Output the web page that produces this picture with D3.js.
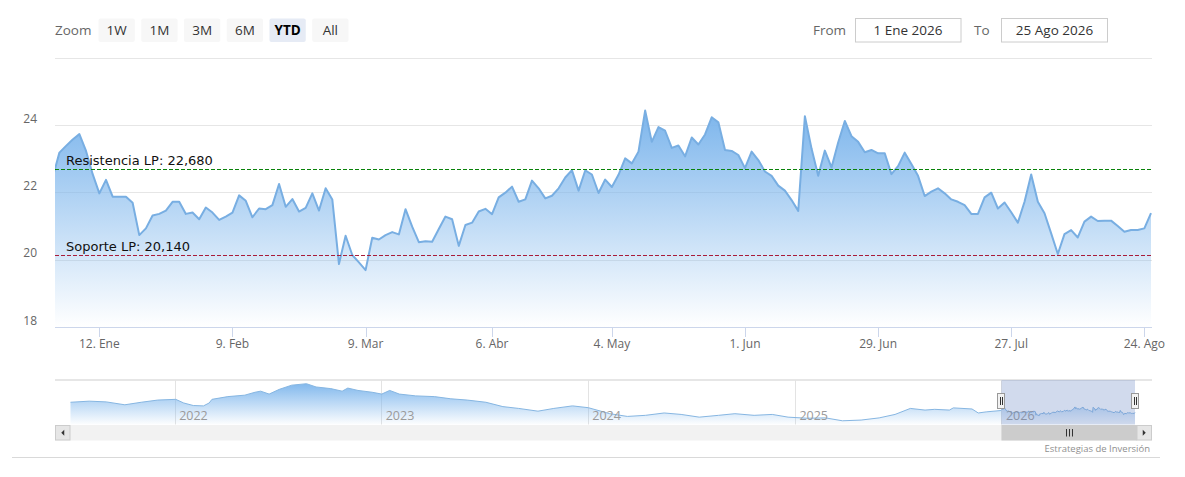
<!DOCTYPE html>
<html><head><meta charset="utf-8">
<script src="https://cdn.jsdelivr.net/npm/d3@7"></script>
<style>
html,body{margin:0;padding:0;background:#fff;}
svg{display:block;font-family:"Open Sans",sans-serif;}
</style></head><body>
<svg id="chart" width="1185" height="477"></svg>
<script>
// ---------- data ----------
const holidays = ["2026-04-03", "2026-04-06", "2026-05-01"];
const priorDate = "2025-12-31";
const startDate = "2026-01-02";
const endDate = "2026-08-25";
// first value belongs to priorDate, then one value per trading day
const prices = [22.45,
  23.18,23.38,23.57,23.73,23.23,22.54,21.97,22.37,21.87,21.87,
  21.87,21.69,20.73,20.93,21.31,21.36,21.46,21.72,21.72,21.36,
  21.40,21.20,21.55,21.40,21.18,21.28,21.40,21.91,21.75,21.26,
  21.52,21.50,21.62,22.25,21.57,21.80,21.43,21.54,21.97,21.46,
  22.12,21.79,19.87,20.71,20.14,19.92,19.69,20.65,20.60,20.73,
  20.82,20.75,21.50,20.98,20.52,20.55,20.53,20.91,21.28,21.20,
  20.41,21.03,21.10,21.43,21.51,21.35,21.85,21.99,22.17,21.72,
  21.79,22.35,22.12,21.82,21.90,22.12,22.44,22.66,22.05,22.65,
  22.53,21.98,22.38,22.16,22.52,23.01,22.86,23.21,24.43,23.50,
  23.94,23.83,23.32,23.39,23.07,23.63,23.42,23.72,24.23,24.08,
  23.26,23.23,23.11,22.72,23.21,22.96,22.62,22.49,22.20,22.05,
  21.77,21.45,24.26,23.30,22.49,23.24,22.74,23.48,24.12,23.67,
  23.50,23.19,23.26,23.16,23.16,22.54,22.78,23.18,22.84,22.49,
  21.89,22.02,22.12,21.97,21.79,21.72,21.62,21.36,21.36,21.85,
  21.99,21.52,21.70,21.41,21.10,21.72,22.53,21.72,21.38,20.78,
  20.17,20.76,20.88,20.66,21.13,21.28,21.15,21.16,21.16,21.00,
  20.83,20.88,20.88,20.93,21.38];

const tickDates = ["2026-01-12","2026-02-09","2026-03-09","2026-04-06","2026-05-04","2026-06-01","2026-06-29","2026-07-27","2026-08-24"];
const tickLabels = ["12. Ene","9. Feb","9. Mar","6. Abr","4. May","1. Jun","29. Jun","27. Jul","24. Ago"];
const yTicks = [18, 20, 22, 24, 26];
const yTickLabels = ["18", "20", "22", "24", ""];
const levelValues = [22.68, 20.14];
const levelLabels = ["Resistencia LP: 22,680", "Soporte LP: 20,140"];
const levelColors = ["#0a820a", "#a81c3a"];

// navigator history (before 2026)
const navDates = ["2021-07-01","2021-08-03","2021-09-02","2021-10-05","2021-11-03","2021-12-02",
  "2022-01-03","2022-01-17","2022-02-03","2022-02-21","2022-03-03","2022-03-08","2022-04-05","2022-05-05",
  "2022-05-23","2022-06-02","2022-06-17","2022-07-05","2022-07-27","2022-08-22","2022-09-08","2022-10-04",
  "2022-10-24","2022-11-03","2022-11-21","2022-12-16","2023-01-02","2023-01-16","2023-02-02","2023-03-03",
  "2023-04-05","2023-05-04","2023-06-02","2023-07-05","2023-08-04","2023-09-01","2023-10-05","2023-11-02",
  "2023-12-05","2024-01-02","2024-02-09","2024-03-11","2024-04-12","2024-05-15","2024-06-14","2024-07-16",
  "2024-08-19","2024-09-17","2024-10-21","2024-11-22","2024-12-20","2025-01-23","2025-02-24","2025-03-26",
  "2025-04-28","2025-05-30","2025-06-27","2025-07-24","2025-08-19","2025-09-05","2025-10-01","2025-10-08",
  "2025-11-10","2025-11-21","2025-12-05"];
const navValues = [27.0,27.6,27.2,25.6,27.0,28.2,
  28.6,26.6,25.2,25.0,26.6,28.6,30.1,30.9,
  32.5,33.1,31.5,34.1,36.4,37.2,35.4,34.5,
  33.1,34.8,33.5,32.5,31.5,33.5,31.5,30.5,
  30.1,28.9,28.2,27.0,24.6,23.6,22.1,23.6,
  25.0,24.0,20.7,19.2,19.8,21.1,20.3,18.8,
  19.8,20.7,19.8,20.3,18.8,18.2,18.4,16.8,
  17.2,18.4,20.3,23.6,22.7,23.1,22.7,23.9,
  23.3,21.1,21.7];
const navYearLabels = ["2022", "2023", "2024", "2025", "2026"];

const zoomLabel = "Zoom";
const zoomButtons = ["1W", "1M", "3M", "6M", "YTD", "All"];
const selectedButton = "YTD";
const fromLabel = "From", toLabel = "To";
const fromText = "1 Ene 2026", toText = "25 Ago 2026";
const credit = "Estrategias de Inversión";

// ---------- helpers ----------
const parse = d3.utcParse("%Y-%m-%d");
const fmt = d3.utcFormat("%Y-%m-%d");
const tradingDays = [parse(priorDate)].concat(
  d3.utcDays(parse(startDate), d3.utcDay.offset(parse(endDate), 1))
    .filter(d => d.getUTCDay() % 6 !== 0 && !holidays.includes(fmt(d))));

const svg = d3.select("#chart");
const defs = svg.append("defs");

// layout
const P = {left: 55, right: 1152, top: 57.7, bottom: 327};
const NAV = {top: 380, bottom: 424.5, left: 55, right: 1152};

// ---------- main scales ----------
const n = prices.length;
const x = d3.scaleLinear().domain([1, n - 1]).range([59.4, 1151]);
const y = d3.scaleLinear().domain([18, 26]).range([P.bottom, P.top]);

defs.append("clipPath").attr("id", "plotClip")
  .append("rect").attr("x", P.left).attr("y", P.top - 5)
  .attr("width", P.right - P.left).attr("height", P.bottom - P.top + 5);

const g1 = defs.append("linearGradient").attr("id", "mainGrad")
  .attr("x1", 0).attr("y1", 0).attr("x2", 0).attr("y2", 1);
g1.append("stop").attr("offset", 0).attr("stop-color", "#7cb5ec").attr("stop-opacity", 1);
g1.append("stop").attr("offset", 1).attr("stop-color", "#7cb5ec").attr("stop-opacity", 0);

// gridlines
svg.append("g").selectAll("line").data(yTicks.filter(v => v !== 18)).join("line")
  .attr("x1", P.left).attr("x2", P.right)
  .attr("y1", d => Math.round(y(d)) + 0.5).attr("y2", d => Math.round(y(d)) + 0.5)
  .attr("stroke", "#e6e6e6").attr("stroke-width", 1);

// y labels
svg.append("g").selectAll("text").data(yTicks).join("text")
  .attr("x", 37).attr("y", d => y(d) - 2.5)
  .attr("text-anchor", "end").attr("font-size", 12).attr("fill", "#666")
  .text((d, i) => yTickLabels[i]);

// area + line
const plot = svg.append("g").attr("clip-path", "url(#plotClip)");
plot.append("path").datum(prices)
  .attr("d", d3.area().x((d, i) => x(i)).y0(y(18)).y1(d => y(d)))
  .attr("fill", "url(#mainGrad)");
plot.append("path").datum(prices)
  .attr("d", d3.line().x((d, i) => x(i)).y(d => y(d)))
  .attr("fill", "none").attr("stroke", "#78aee2").attr("stroke-width", 2)
  .attr("stroke-linejoin", "round");

// support / resistance
levelValues.forEach((v, i) => {
  svg.append("line").attr("x1", P.left).attr("x2", P.right)
    .attr("y1", Math.round(y(v)) + 0.5).attr("y2", Math.round(y(v)) + 0.5)
    .attr("stroke", levelColors[i]).attr("stroke-width", 1).attr("stroke-dasharray", "4,2");
  svg.append("text").attr("x", 66).attr("y", y(v) - 4)
    .style("font-family", "'DejaVu Sans', Verdana, sans-serif")
    .style("font-size", "13px").attr("fill", "#111").text(levelLabels[i]);
});

// x axis
svg.append("line").attr("x1", P.left).attr("x2", P.right)
  .attr("y1", P.bottom + 0.5).attr("y2", P.bottom + 0.5).attr("stroke", "#ccd6eb");
const tickIdx = tickDates.map(d => d3.bisectLeft(tradingDays, parse(d)));
const xa = svg.append("g");
xa.selectAll("line").data(tickIdx).join("line")
  .attr("x1", d => Math.round(x(d)) + 0.5).attr("x2", d => Math.round(x(d)) + 0.5)
  .attr("y1", P.bottom).attr("y2", P.bottom + 10).attr("stroke", "#ccd6eb");
xa.selectAll("text").data(tickIdx).join("text")
  .attr("x", d => x(d)).attr("y", 347.5).attr("text-anchor", "middle")
  .attr("font-size", 12).attr("fill", "#666")
  .text((d, i) => tickLabels[i]);

// ---------- range selector ----------
svg.append("text").attr("x", 55).attr("y", 34.5).attr("font-size", 13.5).attr("fill", "#666").text(zoomLabel);
const bx = d3.scaleBand().domain(zoomButtons).range([98.5, 348.5]).paddingInner(0.15).paddingOuter(0);
const btn = svg.append("g").selectAll("g").data(zoomButtons).join("g");
btn.append("rect").attr("x", d => bx(d)).attr("y", 18.5).attr("width", bx.bandwidth()).attr("height", 23.5)
  .attr("rx", 2).attr("fill", d => d === selectedButton ? "#e6ebf5" : "#f7f7f7");
btn.append("text").attr("x", d => bx(d) + bx.bandwidth() / 2).attr("y", 34.5)
  .attr("text-anchor", "middle").attr("font-size", 13.5)
  .attr("font-weight", d => d === selectedButton ? "bold" : "normal")
  .attr("fill", d => d === selectedButton ? "#000" : "#333").text(d => d);

svg.append("text").attr("x", 813).attr("y", 34.5).attr("font-size", 13.5).attr("fill", "#666").text(fromLabel);
svg.append("rect").attr("x", 855.5).attr("y", 18.5).attr("width", 105.5).attr("height", 23.5)
  .attr("fill", "#fff").attr("stroke", "#cccccc");
svg.append("text").attr("x", 908).attr("y", 34.5).attr("text-anchor", "middle").attr("font-size", 13.5).attr("fill", "#333").text(fromText);
svg.append("text").attr("x", 974).attr("y", 34.5).attr("font-size", 13.5).attr("fill", "#666").text(toLabel);
svg.append("rect").attr("x", 1001.5).attr("y", 18.5).attr("width", 106).attr("height", 23.5)
  .attr("fill", "#fff").attr("stroke", "#cccccc");
svg.append("text").attr("x", 1054.5).attr("y", 34.5).attr("text-anchor", "middle").attr("font-size", 13.5).attr("fill", "#333").text(toText);

// ---------- navigator ----------
const navSeries = navDates.map((d, i) => ({date: parse(d), v: navValues[i]}))
  .concat(tradingDays.map((d, i) => ({date: d, v: prices[i]})));
const nx = d3.scaleUtc().domain([parse(navDates[0]), parse(endDate)]).range([70.5, 1135]);
const [nMin, nMax] = d3.extent(navSeries, d => d.v);
const nR = nMax - nMin;
const ny = d3.scaleLinear().domain([nMin - 0.1 * nR, nMax + 0.1 * nR]).range([NAV.bottom, NAV.top]);

const g2 = defs.append("linearGradient").attr("id", "navGrad")
  .attr("x1", 0).attr("y1", 0).attr("x2", 0).attr("y2", 1);
g2.append("stop").attr("offset", 0).attr("stop-color", "#7cb5ec").attr("stop-opacity", 0.95);
g2.append("stop").attr("offset", 1).attr("stop-color", "#7cb5ec").attr("stop-opacity", 0.02);

// navigator top outline
svg.append("line").attr("x1", NAV.left).attr("x2", NAV.right).attr("y1", NAV.top).attr("y2", NAV.top)
  .attr("stroke", "#dedede").attr("stroke-width", 1.5);

// year gridlines & labels
const years = navYearLabels.map(s => parse(s + "-01-01"));
svg.append("g").selectAll("line").data(years).join("line")
  .attr("x1", d => Math.round(nx(d)) + 0.5).attr("x2", d => Math.round(nx(d)) + 0.5)
  .attr("y1", NAV.top).attr("y2", NAV.bottom).attr("stroke", "#e3e3e3");

svg.append("path").datum(navSeries)
  .attr("d", d3.area().x(d => nx(d.date)).y0(NAV.bottom).y1(d => ny(d.v)))
  .attr("fill", "url(#navGrad)");
svg.append("path").datum(navSeries)
  .attr("d", d3.line().x(d => nx(d.date)).y(d => ny(d.v)))
  .attr("fill", "none").attr("stroke", "#86b6e2").attr("stroke-width", 1);

svg.append("g").selectAll("text").data(years).join("text")
  .attr("x", d => nx(d) + 4.5).attr("y", 420).attr("font-size", 12.5).attr("fill", "#9a9a9a")
  .text((d, i) => navYearLabels[i]);

// selection mask
const selL = nx(parse("2026-01-01")), selR = nx(parse(endDate));
svg.append("rect").attr("x", selL).attr("y", NAV.top).attr("width", selR - selL).attr("height", NAV.bottom - NAV.top)
  .attr("fill", "rgba(102,133,194,0.3)");

// handles
[selL, selR].forEach(hx => {
  const h = svg.append("g");
  h.append("rect").attr("x", Math.round(hx) - 3.5).attr("y", 393.5).attr("width", 7).attr("height", 15)
    .attr("fill", "#f2f2f2").attr("stroke", "#999");
  [-1, 1].forEach(o => h.append("line")
    .attr("x1", Math.round(hx) + o + 0.5).attr("x2", Math.round(hx) + o + 0.5)
    .attr("y1", 397).attr("y2", 405).attr("stroke", "#333"));
});

// scrollbar
const SB = {y: 425, h: 15.5};
svg.append("rect").attr("x", NAV.left).attr("y", SB.y).attr("width", NAV.right - NAV.left).attr("height", SB.h)
  .attr("fill", "#f2f2f2");
svg.append("rect").attr("x", selL).attr("y", SB.y).attr("width", 1137 - selL).attr("height", SB.h)
  .attr("fill", "#cccccc");
[[55.5, -1], [1137, 1]].forEach(([bxp, dir]) => {
  svg.append("rect").attr("x", bxp).attr("y", SB.y + 0.5).attr("width", 14.5).attr("height", SB.h - 1)
    .attr("fill", "#e6e6e6").attr("stroke", "#cccccc");
  const cx = bxp + 7.25, cy = SB.y + SB.h / 2;
  svg.append("path").attr("d", dir < 0
      ? `M${cx + 1.5},${cy - 3}L${cx - 1.5},${cy}L${cx + 1.5},${cy + 3}Z`
      : `M${cx - 1.5},${cy - 3}L${cx + 1.5},${cy}L${cx - 1.5},${cy + 3}Z`)
    .attr("fill", "#333");
});
const gx = (selL + 1137) / 2;
[-3, 0, 3].forEach(o => svg.append("line")
  .attr("x1", Math.round(gx) + o + 0.5).attr("x2", Math.round(gx) + o + 0.5)
  .attr("y1", SB.y + 4).attr("y2", SB.y + 11.5).attr("stroke", "#333"));

// credit + bottom rule
svg.append("text").attr("x", 1150).attr("y", 451.5).attr("text-anchor", "end")
  .attr("font-size", 9.5).attr("fill", "#909090").text(credit);
svg.append("line").attr("x1", 12).attr("x2", 1160).attr("y1", 457.5).attr("y2", 457.5)
  .attr("stroke", "#d9d9d9");
</script>
</body></html>
